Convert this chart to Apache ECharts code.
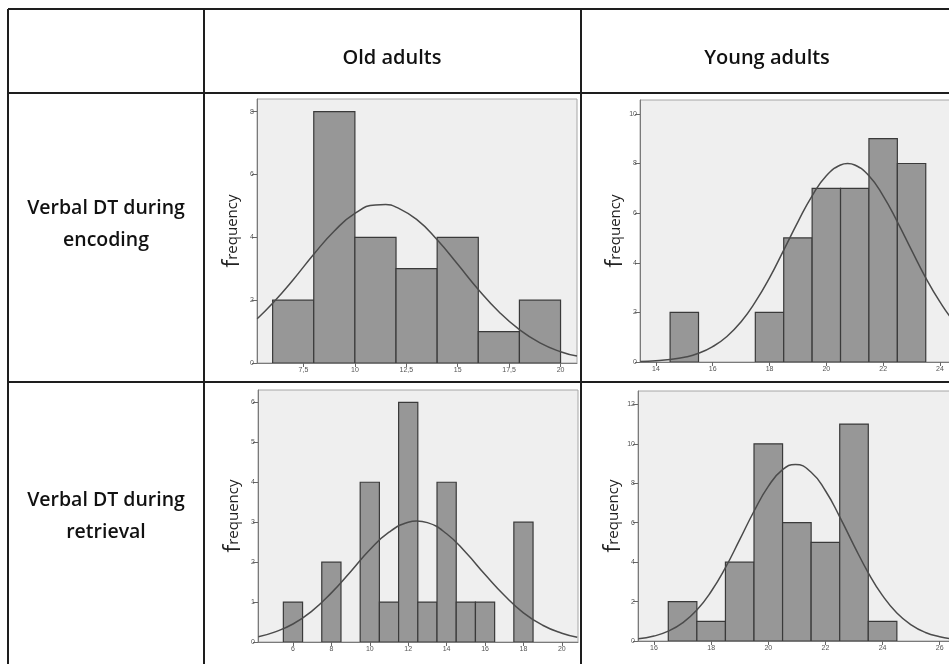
<!DOCTYPE html>
<html>
<head>
<meta charset="utf-8">
<script src="https://cdn.jsdelivr.net/npm/echarts@6/dist/echarts.min.js"></script>
<style>
  html, body { margin: 0; padding: 0; background: #fff; }
  #chart { width: 949px; height: 664px; }
</style>
</head>
<body>
<div id="chart"></div>
<script>
// Table headings
const groupLabels = ['Old adults', 'Young adults'];
const conditionLabels = ['Verbal DT during\nencoding', 'Verbal DT during\nretrieval'];

// Old adults – verbal DT during encoding (bins of width 2)
const oldEncBinCenters = [7, 9, 11, 13, 15, 17, 19];
const oldEncCounts = [2, 8, 4, 3, 4, 1, 2];
const oldEncCurveX = [5.25, 6, 7, 8, 9, 10, 11, 11.5, 12, 13, 14, 15, 16, 17, 18, 19, 20, 20.8];
const oldEncCurveY = [1.41, 1.90, 2.65, 3.46, 4.20, 4.76, 5.03, 5.04, 4.96, 4.57, 3.92, 3.14, 2.34, 1.63, 1.06, 0.64, 0.36, 0.22];
const oldEncXTicks = [7.5, 10, 12.5, 15, 17.5, 20];
const oldEncYTicks = [0, 2, 4, 6, 8];

// Young adults – verbal DT during encoding (bins of width 1)
const youngEncBinCenters = [15, 18, 19, 20, 21, 22, 23];
const youngEncCounts = [2, 2, 5, 7, 7, 9, 8];
const youngEncCurveX = [13.45, 14, 14.5, 15, 15.5, 16, 16.5, 17, 17.5, 18, 18.5, 19, 19.5, 20,
                        20.5, 20.75, 21, 21.5, 22, 22.5, 23, 23.5, 24, 24.5, 25, 25.4];
const youngEncCurveY = [0.02, 0.05, 0.10, 0.19, 0.35, 0.62, 1.03, 1.62, 2.42, 3.39, 4.51, 5.65, 6.70, 7.51,
                        7.94, 8.0, 7.94, 7.51, 6.70, 5.65, 4.51, 3.39, 2.42, 1.62, 1.03, 0.69];
const youngEncXTicks = [14, 16, 18, 20, 22, 24, 26];
const youngEncYTicks = [0, 2, 4, 6, 8, 10];

// Old adults – verbal DT during retrieval (bins of width 1)
const oldRetBinCenters = [6, 8, 10, 11, 12, 13, 14, 15, 16, 18];
const oldRetCounts = [1, 2, 4, 1, 6, 1, 4, 1, 1, 3];
const oldRetCurveX = [4.2, 5, 6, 7, 8, 9, 10, 11, 12, 12.44, 13, 14, 15, 16, 17, 18, 19, 20, 20.8];
const oldRetCurveY = [0.13, 0.24, 0.45, 0.78, 1.23, 1.76, 2.31, 2.75, 3.00, 3.03, 2.99, 2.71, 2.24, 1.69, 1.17, 0.73, 0.42, 0.22, 0.12];
const oldRetXTicks = [6, 8, 10, 12, 14, 16, 18, 20];
const oldRetYTicks = [0, 1, 2, 3, 4, 5, 6];

// Young adults – verbal DT during retrieval (bins of width 1)
const youngRetBinCenters = [17, 18, 19, 20, 21, 22, 23, 24];
const youngRetCounts = [2, 1, 4, 10, 6, 5, 11, 1];
const youngRetCurveX = [15.45, 16, 16.5, 17, 17.5, 18, 18.5, 19, 19.5, 20, 20.5, 20.95, 21.5,
                        22, 22.5, 23, 23.5, 24, 24.5, 25, 25.5, 26, 26.5, 27, 27.4];
const youngRetCurveY = [0.11, 0.25, 0.50, 0.92, 1.57, 2.51, 3.72, 5.14, 6.58, 7.84, 8.69, 8.95, 8.56,
                        7.62, 6.30, 4.84, 3.46, 2.30, 1.42, 0.82, 0.43, 0.22, 0.10, 0.04, 0.02];
const youngRetXTicks = [16, 18, 20, 22, 24, 26];
const youngRetYTicks = [0, 2, 4, 6, 8, 10, 12];

// Panel layout: plot frame in pixels and the visible axis ranges
const panels = [
  { box: { left: 257, top: 99, width: 320, height: 264 }, xMin: 5.24, xMax: 20.8, yMax: 8.4, binWidth: 2,
    centers: oldEncBinCenters, counts: oldEncCounts, cx: oldEncCurveX, cy: oldEncCurveY, xTicks: oldEncXTicks, yTicks: oldEncYTicks },
  { box: { left: 640, top: 100, width: 340, height: 262 }, xMin: 13.44, xMax: 25.41, yMax: 10.56, binWidth: 1,
    centers: youngEncBinCenters, counts: youngEncCounts, cx: youngEncCurveX, cy: youngEncCurveY, xTicks: youngEncXTicks, yTicks: youngEncYTicks },
  { box: { left: 258, top: 390, width: 320, height: 252 }, xMin: 4.18, xMax: 20.84, yMax: 6.31, binWidth: 1,
    centers: oldRetBinCenters, counts: oldRetCounts, cx: oldRetCurveX, cy: oldRetCurveY, xTicks: oldRetXTicks, yTicks: oldRetYTicks },
  { box: { left: 638, top: 391, width: 342, height: 250 }, xMin: 15.44, xMax: 27.41, yMax: 12.68, binWidth: 1,
    centers: youngRetBinCenters, counts: youngRetCounts, cx: youngRetCurveX, cy: youngRetCurveY, xTicks: youngRetXTicks, yTicks: youngRetYTicks }
];

const tickLabelStyle = { fontSize: 7, color: '#555', fontFamily: 'Liberation Sans' };

function histogramItem(binWidth) {
  return function (params, api) {
    const c = api.value(0);
    const n = api.value(1);
    const topLeft = api.coord([c - binWidth / 2, n]);
    const bottomRight = api.coord([c + binWidth / 2, 0]);
    return {
      type: 'rect',
      shape: { x: topLeft[0], y: topLeft[1], width: bottomRight[0] - topLeft[0], height: bottomRight[1] - topLeft[1] },
      style: { fill: '#979797', stroke: '#3a3a3a', lineWidth: 1.2 }
    };
  };
}

const grid = [], xAxis = [], yAxis = [], series = [];
panels.forEach(function (p, i) {
  grid.push(Object.assign({
    show: true, backgroundColor: '#efefef', borderColor: '#a6a6a6', borderWidth: 1,
    containLabel: false, outerBoundsMode: 'none'
  }, p.box));
  xAxis.push({
    type: 'value', gridIndex: i, min: p.xMin, max: p.xMax,
    axisLine: { show: true, onZero: false, lineStyle: { color: '#7a7a7a', width: 1 } },
    axisTick: { show: true, customValues: p.xTicks, length: 4, lineStyle: { color: '#666' } },
    axisLabel: Object.assign({ customValues: p.xTicks, margin: 4,
      formatter: function (v) { return String(v).replace('.', ','); } }, tickLabelStyle),
    splitLine: { show: false }
  });
  yAxis.push({
    type: 'value', gridIndex: i, min: 0, max: p.yMax,
    axisLine: { show: true, onZero: false, lineStyle: { color: '#7a7a7a', width: 1 } },
    axisTick: { show: true, customValues: p.yTicks, length: 5, lineStyle: { color: '#666' } },
    axisLabel: Object.assign({ customValues: p.yTicks, margin: 3 }, tickLabelStyle),
    splitLine: { show: false },
    name: '{f|f}{r|requency}', nameLocation: 'middle', nameRotate: 90, nameGap: 13, nameMoveOverlap: false,
    nameTextStyle: {
      rich: {
        f: { fontSize: 23, fontFamily: 'Open Sans', color: '#222' },
        r: { fontSize: 15, fontFamily: 'Open Sans', color: '#222' }
      }
    }
  });
  series.push({
    type: 'custom', xAxisIndex: i, yAxisIndex: i, clip: true,
    renderItem: histogramItem(p.binWidth),
    encode: { x: 0, y: 1 },
    data: p.centers.map(function (c, k) { return [c, p.counts[k]]; }),
    z: 2
  });
  series.push({
    type: 'line', xAxisIndex: i, yAxisIndex: i, smooth: true, showSymbol: false, clip: true,
    lineStyle: { color: '#4b4b4b', width: 1.5 },
    data: p.cx.map(function (x, k) { return [x, p.cy[k]]; }),
    z: 3, silent: true
  });
});

// Table rules
const lineStyle = { stroke: '#1e1e1e', lineWidth: 2 };
const tableLines = [
  [8, 9, 949, 9], [8, 93, 949, 93], [8, 382, 949, 382],
  [8, 9, 8, 664], [204, 9, 204, 664], [581, 9, 581, 664]
].map(function (l) {
  return { type: 'line', shape: { x1: l[0], y1: l[1], x2: l[2], y2: l[3] }, style: lineStyle, z: 100 };
});

const headFont = { fontFamily: 'Open Sans', fontWeight: 600, fill: '#111', align: 'center', verticalAlign: 'middle' };
const tableTexts = [
  { type: 'text', x: 392, y: 58, style: Object.assign({ text: groupLabels[0], fontSize: 20 }, headFont), z: 100 },
  { type: 'text', x: 767, y: 58, style: Object.assign({ text: groupLabels[1], fontSize: 20 }, headFont), z: 100 },
  { type: 'text', x: 106, y: 224, style: Object.assign({ text: conditionLabels[0], fontSize: 19.5, lineHeight: 32 }, headFont), z: 100 },
  { type: 'text', x: 106, y: 516, style: Object.assign({ text: conditionLabels[1], fontSize: 19.5, lineHeight: 32 }, headFont), z: 100 }
];

const chart = echarts.init(document.getElementById('chart'), null, { renderer: 'canvas' });
chart.setOption({
  animation: false,
  backgroundColor: '#ffffff',
  grid: grid,
  xAxis: xAxis,
  yAxis: yAxis,
  series: series,
  graphic: tableLines.concat(tableTexts)
});
</script>
</body>
</html>
